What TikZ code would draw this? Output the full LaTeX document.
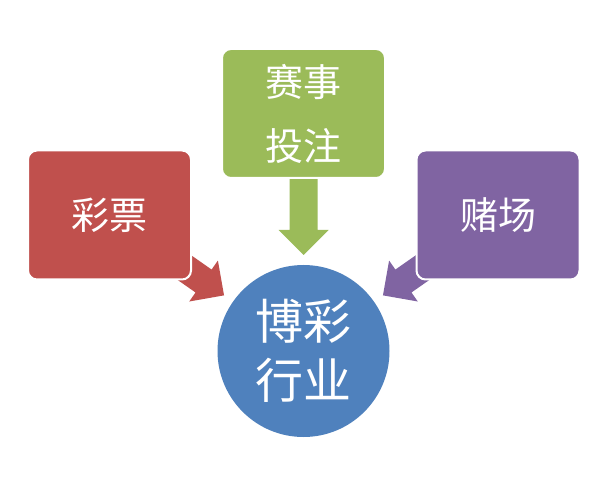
\documentclass[tikz,border=0pt]{standalone}
\usepackage{fontspec}
\newfontfamily\cjk{Noto Sans CJK SC}
\usetikzlibrary{calc}
\definecolor{caired}{HTML}{C0504D}
\definecolor{saigreen}{HTML}{9BBB59}
\definecolor{duviolet}{HTML}{8064A2}
\definecolor{hangblue}{HTML}{4F81BD}
\def\blockarrow[#1](#2)(#3:#4:#5){\fill[#1,shift={($(#2)+(#3:#4)$)},rotate=#3] (0,0) -- (25,25) -- (25,14) -- (#5,14) -- (#5,-14) -- (25,-14) -- (25,-25) -- cycle;}
\tikzset{
	box/.style={draw=white, line width=2pt, rounded corners=9pt, minimum width=163pt, minimum height=129pt, text=white, align=center, font={\cjk\fontsize{38}{64}\selectfont}},
	hub/.style={circle, fill=hangblue, minimum size=172pt, inner sep=0pt, text=white, align=center, font={\cjk\fontsize{48}{59}\selectfont}}
}

\begin{document}
\begin{tikzpicture}[x=1pt,y=1pt]
			%%%%% START %%%%%
			
			\fill[white] (0,0) rectangle (600,480);
			\useasboundingbox (0,0) rectangle (600,480);
			
			\node[hub] (hangye) at (303.5,129) {博彩\\行业};
			
			\blockarrow[caired](hangye)(145:97:80)
			\blockarrow[saigreen](hangye)(90:96:85)
			\blockarrow[duviolet](hangye)(35:97:80)
			
			\node[box, fill=caired] (caipiao) at (109.5,265) {彩票};
			\node[box, fill=saigreen] (saishi) at (303.5,366.5) {赛事\\投注};
			\node[box, fill=duviolet] (duchang) at (498,265) {赌场};
			
			%%%%% END %%%%%
		\end{tikzpicture}
\end{document}
